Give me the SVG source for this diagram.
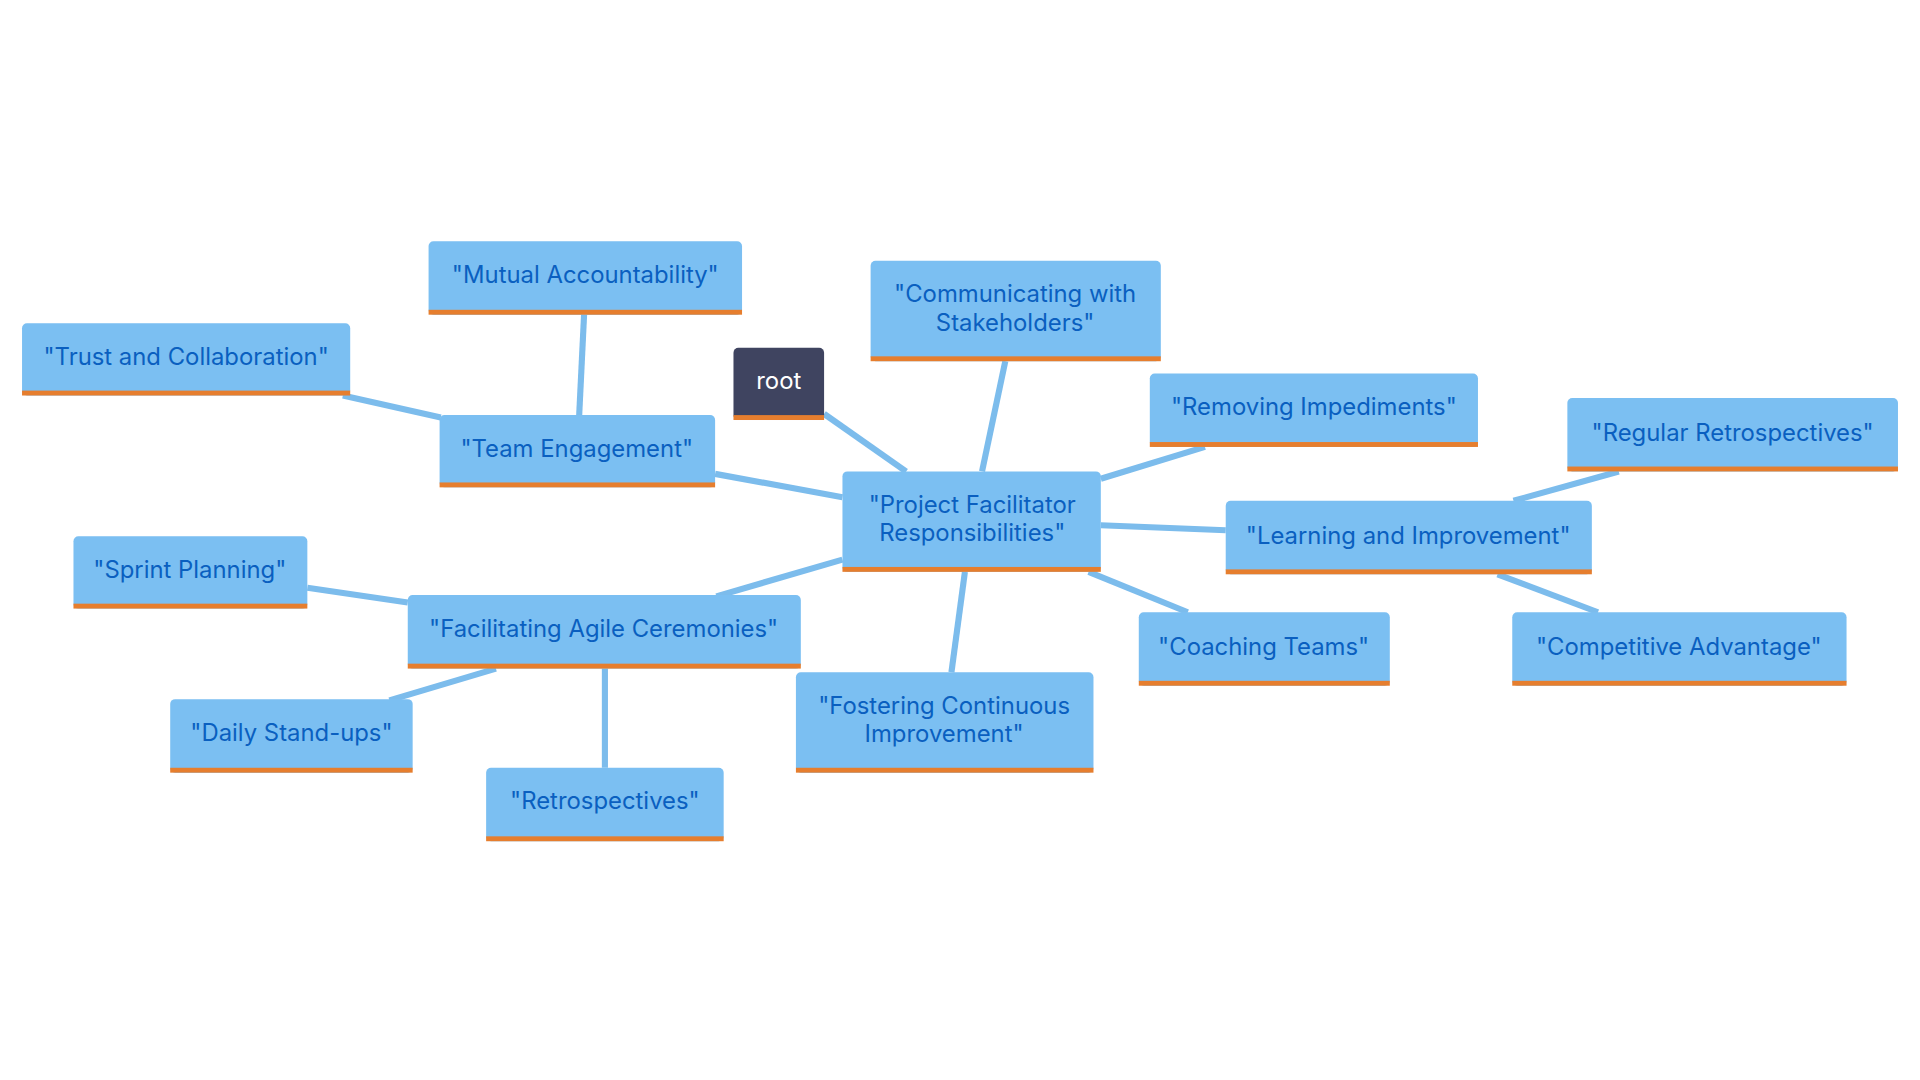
<svg xmlns="http://www.w3.org/2000/svg" width="1920" height="1080" viewBox="0 0 1920 1080">
<style>
.n{fill:#7bbff2}
.b{fill:#e67e2e}
.t{font-family:Inter,"Open Sans",sans-serif;font-size:19.5px;fill:#0a5fc0;text-anchor:middle}
.e line{stroke:#7cbcec;stroke-width:5}
</style>
<rect width="1920" height="1080" fill="#fff"/>
<g transform="scale(1.2245)">
<g class="e" id="connectors">
<line x1="673" y1="338" x2="740" y2="385"/>
<line x1="821" y1="295" x2="802" y2="385"/>
<line x1="984" y1="365" x2="899" y2="391"/>
<line x1="899" y1="429" x2="1001" y2="433"/>
<line x1="889" y1="467" x2="970" y2="500"/>
<line x1="788" y1="467" x2="777" y2="549"/>
<line x1="688" y1="457" x2="585" y2="487"/>
<line x1="688" y1="406" x2="584" y2="387"/>
<line x1="477" y1="257" x2="473" y2="339"/>
<line x1="280" y1="323" x2="360" y2="341"/>
<line x1="251" y1="480" x2="333" y2="492"/>
<line x1="405" y1="546" x2="318" y2="572"/>
<line x1="494" y1="546" x2="494" y2="627"/>
<line x1="1322" y1="385" x2="1236" y2="409"/>
<line x1="1223" y1="469" x2="1305" y2="500"/>
</g>
<g id="root"><rect x="599" y="284" width="74" height="59" rx="4" fill="#3f4460"/><rect class="b" x="599" y="339" width="74" height="4"/><text x="636" y="318" class="t" style="fill:#fff">root</text></g>
<g id="pfr"><rect class="n" x="688" y="385" width="211" height="82" rx="4"/><rect class="b" x="688" y="463" width="211" height="4"/><text x="794" y="419" class="t">"Project Facilitator</text><text x="794" y="442" class="t">Responsibilities"</text></g>
<g id="comm"><rect class="n" x="711" y="213" width="237" height="82" rx="4"/><rect class="b" x="711" y="291" width="237" height="4"/><text x="829" y="247" class="t">"Communicating with</text><text x="829" y="270" class="t">Stakeholders"</text></g>
<g id="remove"><rect class="n" x="939" y="305" width="268" height="60" rx="4"/><rect class="b" x="939" y="361" width="268" height="4"/><text x="1073" y="339" class="t">"Removing Impediments"</text></g>
<g id="learn"><rect class="n" x="1001" y="409" width="299" height="60" rx="4"/><rect class="b" x="1001" y="465" width="299" height="4"/><text x="1150" y="444" class="t">"Learning and Improvement"</text></g>
<g id="regular"><rect class="n" x="1280" y="325" width="270" height="60" rx="4"/><rect class="b" x="1280" y="381" width="270" height="4"/><text x="1415" y="360" class="t">"Regular Retrospectives"</text></g>
<g id="comp"><rect class="n" x="1235" y="500" width="273" height="60" rx="4"/><rect class="b" x="1235" y="556" width="273" height="4"/><text x="1371" y="535" class="t">"Competitive Advantage"</text></g>
<g id="coach"><rect class="n" x="930" y="500" width="205" height="60" rx="4"/><rect class="b" x="930" y="556" width="205" height="4"/><text x="1032" y="535" class="t">"Coaching Teams"</text></g>
<g id="foster"><rect class="n" x="650" y="549" width="243" height="82" rx="4"/><rect class="b" x="650" y="627" width="243" height="4"/><text x="771" y="583" class="t">"Fostering Continuous</text><text x="771" y="606" class="t">Improvement"</text></g>
<g id="fac"><rect class="n" x="333" y="486" width="321" height="60" rx="4"/><rect class="b" x="333" y="542" width="321" height="4"/><text x="493" y="520" class="t">"Facilitating Agile Ceremonies"</text></g>
<g id="sprint"><rect class="n" x="60" y="438" width="191" height="59" rx="4"/><rect class="b" x="60" y="493" width="191" height="4"/><text x="155" y="472" class="t">"Sprint Planning"</text></g>
<g id="daily"><rect class="n" x="139" y="571" width="198" height="60" rx="4"/><rect class="b" x="139" y="627" width="198" height="4"/><text x="238" y="605" class="t">"Daily Stand-ups"</text></g>
<g id="retro"><rect class="n" x="397" y="627" width="194" height="60" rx="4"/><rect class="b" x="397" y="683" width="194" height="4"/><text x="494" y="661" class="t">"Retrospectives"</text></g>
<g id="team"><rect class="n" x="359" y="339" width="225" height="59" rx="4"/><rect class="b" x="359" y="394" width="225" height="4"/><text x="471" y="373" class="t">"Team Engagement"</text></g>
<g id="mutual"><rect class="n" x="350" y="197" width="256" height="60" rx="4"/><rect class="b" x="350" y="253" width="256" height="4"/><text x="478" y="231" class="t">"Mutual Accountability"</text></g>
<g id="trust"><rect class="n" x="18" y="264" width="268" height="59" rx="4"/><rect class="b" x="18" y="319" width="268" height="4"/><text x="152" y="298" class="t">"Trust and Collaboration"</text></g>
</g>
</svg>
